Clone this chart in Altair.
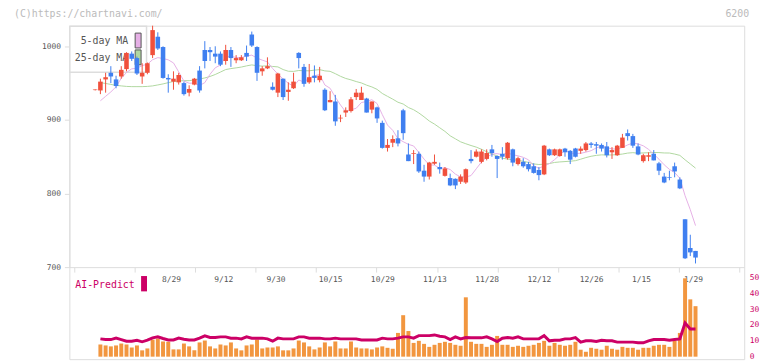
import altair as alt
import pandas as pd

# ---------------- data ----------------
days = list(range(-1, 115))          # trading-day index (-1 = doji before the window)

open_ = [
    940.5,
    940, 955, 964, 955, 959, 969, 990, 984, 959, 964,
    988, 1013, 999, 957, 952, 951, 950, 937, 948, 967,
    995, 995, 990, 990, 980, 995, 981, 981, 991, 1016,
    999, 966, 970, 945, 937, 956, 938, 943, 991, 972,
    951, 960, 954, 941, 924, 925, 902, 910, 912, 931,
    927, 929, 914, 917, 896, 862, 869, 875, 913, 853,
    854, 854, 831, 823, 840.5, 836, 824, 821, 820, 816,
    815, 847, 850, 843, 847, 860, 851, 854, 848, 860,
    840, 843, 840, 837, 832, 826, 860, 852, 851, 861,
    858, 861, 858, 859, 868, 867, 866, 864, 856, 852,
    862, 882, 878, 864, 844, 850, 854, 841, 823, 822.4,
    837, 819, 765, 726, 722]
high = [
    941.5,
    956, 964, 973, 960, 973, 992, 993, 986, 977, 978,
    1028, 1019, 1000, 962, 966, 964, 952, 947, 957, 973,
    1007, 999, 1000, 993, 1002, 999, 988, 988, 1001, 1020,
    1000, 973, 985, 951, 964, 956, 951, 964, 992, 976,
    976, 974, 972, 943, 939, 934, 907, 917, 931, 942,
    945, 930, 925, 918, 899, 874, 879, 886, 915, 868,
    859, 857, 839, 843, 853, 842, 836, 827, 820.5, 826,
    834, 859, 860, 860, 860, 866, 851.5, 863, 870, 861,
    850, 848, 843, 841, 836, 866, 861, 861, 861, 862,
    859, 862, 864, 870, 870, 870, 868, 870, 863, 866,
    881, 887, 881, 868, 854, 856, 859, 843, 828, 831,
    842, 822, 765, 744, 722]
low = [
    940,
    935, 937, 950, 943, 956, 966, 980, 961, 949, 962,
    984, 995, 956, 937, 941, 948, 933, 932, 947, 937,
    970, 980, 977, 973, 975, 972, 977, 980, 980, 999,
    953, 960, 969, 940, 931, 927, 926, 942, 970, 945,
    949, 951, 951, 912, 924, 892, 897, 904, 910, 927,
    927, 910, 909, 896, 861, 857, 863, 864, 873, 844,
    840, 828, 816, 819, 839, 827, 823, 810, 806, 813,
    813, 841, 849, 841, 845, 850, 821, 846, 846, 837,
    838, 835, 830, 827, 818, 825, 851, 851, 850, 850,
    840, 849, 854, 857, 862, 854, 857, 849, 847, 851,
    862, 872, 862, 852, 842, 844, 845, 825, 814, 818,
    822, 806, 711, 715, 705]
close = [
    941.3,
    952, 958, 959, 946, 968, 991, 983, 963, 964, 977,
    1022, 997, 957, 955, 956, 961, 935, 942, 956, 940,
    980, 992, 986, 975, 995, 984, 984, 985, 986, 1001,
    964, 970, 973, 941, 963, 931, 941, 952, 984, 949,
    958, 957, 960, 913, 927, 898, 903, 913, 928, 937,
    937, 910, 925, 902, 862, 866, 874, 868, 882, 844,
    855, 830, 823, 842, 843, 833, 834, 811, 811, 823,
    833, 844, 857, 857, 855, 855, 847, 850, 869, 842,
    848, 837, 833, 828, 825, 865, 852, 860, 860, 856,
    846, 850, 861, 868, 866, 865, 861, 852, 859, 865,
    876, 878, 865, 853, 852, 852, 845, 831, 815, 821.5,
    830, 807, 712, 720, 713]

# days 0..114
ma5 = [
    926, 932, 938, 945, 956.6, 964.4, 969.4, 970.2, 973.8, 975.6,
    981.8, 984.6, 983.4, 981.6, 977.4, 965.2, 952.8, 949.8, 950, 946.8,
    950.6, 962, 970.8, 974.6, 985.6, 986.4, 984.8, 984.6, 986.8, 988,
    984, 981.2, 978.8, 969.8, 962.2, 955.6, 949.8, 945.6, 954.2, 951.4,
    956.8, 960, 961.6, 947.4, 943, 931, 920.2, 910.8, 913.8, 915.8,
    923.6, 925, 927.4, 922.2, 907.2, 893, 885.8, 874.4, 870.4, 866.8,
    864.6, 855.8, 846.8, 838.8, 838.6, 834.2, 835, 832.6, 826.4, 822.4,
    822.4, 824.4, 833.6, 842.8, 849.2, 853.6, 854.2, 852.8, 855.2, 852.6,
    851.2, 849.2, 845.8, 837.6, 834.2, 837.6, 840.6, 846, 852.4, 858.6,
    854.8, 854.4, 854.6, 856.2, 858.2, 862, 864.2, 862.4, 860.6, 860.4,
    862.6, 866, 868.6, 867.4, 864.8, 860, 853.4, 846.6, 839, 832.8,
    828.4, 820.8, 797, 778, 756.4]
ma25 = [
    950.6, 949.5, 948.2, 946.9, 946.2, 945.5, 945.2, 945.2, 945.2, 945.5,
    946.2, 947.5, 948.9, 950.6, 952.2, 952.9, 953.3, 953.3, 954.3, 955.6,
    957, 959, 961.7, 965, 968.4, 969.7, 970.7, 971.8, 973.4, 974.7,
    973.6, 973.1, 973.5, 972.6, 972, 968.4, 966.1, 965.9, 967.1, 966.8,
    966.7, 967.6, 968.3, 966.6, 966, 962.8, 959.2, 956.3, 954.4, 952.1,
    950.2, 947.2, 944.8, 941.5, 935.9, 932, 928.2, 924, 921.6, 916.8,
    913.8, 909.4, 904.2, 898.5, 894.3, 889.3, 884.4, 878.4, 874.3, 870.2,
    867.6, 865.2, 863, 860.1, 856.8, 853.6, 851, 848, 846.7, 845.9,
    845.2, 843.7, 842.3, 840.2, 839.4, 839.8, 840.7, 842.2, 842.9, 843.4,
    843.9, 844.6, 846.6, 848.8, 850.6, 851.8, 852.5, 852.3, 852.4, 852.8,
    853.6, 854.9, 855.5, 854.8, 855.2, 855.4, 855.7, 855.6, 855.1, 855,
    853.6, 851.8, 845.8, 840.2, 834.5]
volume = [
    7.7, 7.1, 6.5, 7.1, 8.3, 7.7, 5.8, 7.1, 4.0, 5.2,
    10.8, 11.5, 9.6, 9.4, 4.6, 4.6, 8.3, 6.5, 4.0, 9.0,
    10.2, 6.5, 5.2, 7.7, 7.1, 9.0, 5.2, 4.0, 7.1, 7.7,
    10.8, 5.2, 5.8, 5.8, 6.5, 4.0, 4.0, 5.2, 10.2, 9.0,
    6.5, 4.6, 5.8, 9.0, 6.5, 9.6, 5.2, 5.2, 9.6, 5.8,
    5.2, 5.2, 4.6, 5.8, 6.5, 5.6, 5.0, 15.0, 26.2, 16.2,
    8.7, 10.0, 8.1, 6.2, 7.5, 8.7, 9.4, 8.7, 7.5, 6.9,
    37.5, 9.4, 8.1, 8.1, 6.2, 7.5, 13.1, 7.5, 7.5, 6.2,
    6.9, 6.2, 6.9, 7.5, 8.7, 10.0, 6.9, 8.7, 7.5, 6.9,
    7.5, 9.4, 4.4, 3.1, 5.6, 5.0, 4.4, 6.9, 5.0, 4.4,
    6.2, 5.6, 5.6, 4.4, 5.6, 5.6, 6.9, 7.5, 7.5, 6.2,
    10.0, 15.0, 49.5, 36.2, 31.9]
ai_predict = [
    11.25, 10.8, 10.8, 11.7, 10.8, 9.8, 9.8, 10.4, 9.4, 10.4,
    11.9, 12.5, 11.5, 10.6, 10.6, 11.7, 11.0, 10.6, 10.6, 11.7,
    13.1, 12.1, 12.1, 12.5, 12.5, 11.7, 11.7, 11.25, 12.5, 11.7,
    11.7, 11.7, 11.25, 9.8, 11.7, 11.25, 11.25, 11.25, 12.5, 12.5,
    11.7, 11.7, 11.7, 11.25, 11.25, 11.7, 11.25, 11.25, 11.25, 11.25,
    10.6, 10.6, 10.6, 10.6, 11.7, 11.25, 11.25, 11.7, 12.5, 12.5,
    11.7, 13.3, 13.3, 13.3, 13.75, 12.9, 12.5, 10.8, 12.5, 11.25,
    12.1, 11.9, 11.9, 11.9, 12.5, 11.25, 9.6, 11.7, 12.1, 11.7,
    12.5, 11.25, 11.25, 11.25, 11.25, 13.3, 10.0, 10.4, 10.4, 11.25,
    11.25, 12.1, 9.2, 10.0, 10.0, 9.6, 10.4, 10.0, 10.0, 9.2,
    9.2, 9.2, 9.2, 8.75, 8.75, 10.0, 10.8, 10.8, 10.8, 10.4,
    10.8, 11.25, 21.25, 17.5, 17.5]

date_labels = ["8/29", "9/12", "9/30", "10/15", "10/29", "11/13",
               "11/28", "12/12", "12/26", "1/15", "1/29"]
date_days = [12, 22, 32, 42, 52, 62, 72, 82, 92, 102, 112]
price_ticks = [700, 800, 900, 1000]
volume_ticks = [0, 10, 20, 30, 40, 50]
x_grid_ticks = [-5, 6.58, 18.16, 29.74, 41.32, 52.9, 64.48, 76.06, 87.64,
                99.22, 110.8, 122.38]
legend_names = ["5-day MA", "25-day MA"]
ai_name = "AI-Predict"
header_left = "(C)https://chartnavi.com/"
header_right = "6200"

# ---------------- tables ----------------
cdf = pd.DataFrame({"day": days, "o": open_, "h": high, "l": low, "c": close})
cdf["dir"] = ["up" if c >= o else "down" for o, c in zip(open_, close)]
vdf = pd.DataFrame({"day": days[1:], "v": volume, "a": ai_predict,
                    "m5": ma5, "m25": ma25})
ldf = pd.DataFrame({"day": date_days, "lab": date_labels})
one = pd.DataFrame({"z": [0]})

# ---------------- styles ----------------
RED, BLUE = "#f0503c", "#3f7ff0"
PINK, GREEN = "#e6b0e6", "#b0d8a0"
ORANGE, MAG = "#f2963f", "#cc0066"
FONT = "DejaVu Sans Mono"
W, H = 682, 337

XS = alt.Scale(domain=[-5, 122.38], nice=False, zero=False)
XAX = alt.Axis(values=x_grid_ticks, labels=False, title=None, grid=False,
               domainColor="#dddddd", tickColor="#dddddd", tickSize=5,
               offset=-(H - 244))
PY = alt.Scale(domain=[700, 1028], range=[244, 0], nice=False, zero=False)
PAX = alt.Axis(values=price_ticks, format="d", title=None, grid=False,
               domainColor="#dddddd", tickColor="#dddddd", tickSize=5,
               labelPadding=4, labelFont=FONT, labelFontSize=8,
               labelColor="#555555")
VY = alt.Scale(domain=[0, 50], range=[334.5, 254.5], nice=False, zero=True)
VAX = alt.Axis(values=volume_ticks, format="d", title=None, grid=False,
               domain=False, ticks=False, labelPadding=5, labelFont=FONT,
               labelFontSize=8, labelColor=MAG)


def X(f):
    return alt.X(f, type="quantitative", scale=XS, axis=XAX)


def PYe(f):
    return alt.Y(f, type="quantitative", scale=PY, axis=PAX)


# ---------------- top panel ----------------
box = alt.Chart(one).mark_rect(fill="white", stroke="#dddddd", strokeWidth=1.5).encode(
    x=alt.value(0.5), x2=alt.value(78), y=alt.value(0.5), y2=alt.value(47))
lt1 = alt.Chart(one).mark_text(font=FONT, fontSize=10, color="#555555",
                               align="right", baseline="middle").encode(
    x=alt.value(59.5), y=alt.value(15.5), text=alt.value(legend_names[0]))
lt2 = alt.Chart(one).mark_text(font=FONT, fontSize=10, color="#555555",
                               align="right", baseline="middle").encode(
    x=alt.value(59.5), y=alt.value(32.5), text=alt.value(legend_names[1]))
sw1 = alt.Chart(one).mark_rect(fill=PINK, stroke="#555555", strokeWidth=1).encode(
    x=alt.value(66.5), x2=alt.value(72.5), y=alt.value(7.5), y2=alt.value(22.5))
sw2 = alt.Chart(one).mark_rect(fill=GREEN, stroke="#555555", strokeWidth=1).encode(
    x=alt.value(66.5), x2=alt.value(72.5), y=alt.value(24.5), y2=alt.value(39.5))

m25 = alt.Chart(vdf).mark_line(color=GREEN, strokeWidth=1).encode(x=X("day"), y=PYe("m25"))
m5 = alt.Chart(vdf).mark_line(color=PINK, strokeWidth=1).encode(x=X("day"), y=PYe("m5"))

col = alt.Color("dir:N", scale=alt.Scale(domain=["up", "down"], range=[RED, BLUE]), legend=None)
wick = alt.Chart(cdf).mark_rule(strokeWidth=1).encode(
    x=X("day"), y=PYe("l"), y2="h", color=col)
body = alt.Chart(cdf).mark_bar(size=4.6).encode(
    x=X("day"), y=PYe("o"), y2="c", color=col)

dates = alt.Chart(ldf).mark_text(font=FONT, fontSize=8, color="#555555",
                                 align="left", baseline="middle", dx=-1).encode(
    x=X("day"), y=alt.value(257.5), text="lab:N")
hl = alt.Chart(one).mark_text(font=FONT, fontSize=10, color="#bbbbbb",
                              align="left", baseline="middle").encode(
    x=alt.value(-56), y=alt.value(-11.5), text=alt.value(header_left))
hr = alt.Chart(one).mark_text(font=FONT, fontSize=10, color="#bbbbbb",
                              align="right", baseline="middle").encode(
    x=alt.value(687), y=alt.value(-11.5), text=alt.value(header_right))

top = alt.layer(box, lt1, lt2, sw1, sw2, m25, m5, wick, body, dates, hl, hr)

# ---------------- bottom panel ----------------
vbar = alt.Chart(vdf).mark_bar(size=4, color=ORANGE).encode(
    x=X("day"), y=alt.Y("v:Q", scale=VY, axis=VAX))
aline = alt.Chart(vdf).mark_line(color=MAG, strokeWidth=3).encode(
    x=X("day"), y=alt.Y("a:Q", scale=VY, axis=VAX))
atext = alt.Chart(one).mark_text(font=FONT, fontSize=10, color=MAG,
                                 align="left", baseline="middle").encode(
    x=alt.value(6), y=alt.value(262), text=alt.value(ai_name))
aswatch = alt.Chart(one).mark_rect(fill=MAG).encode(
    x=alt.value(72.5), x2=alt.value(78.5), y=alt.value(253), y2=alt.value(268.5))

bottom = alt.layer(vbar, aline, atext, aswatch)

chart = alt.layer(top, bottom).resolve_scale(y="independent").properties(
    width=W, height=H,
    padding={"left": 62, "top": 16, "right": 20, "bottom": 0},
    autosize=alt.AutoSizeParams(type="none"),
).configure_view(strokeWidth=0).configure(background="white")

chart.save("out.html", embed_options={"renderer": "svg", "actions": False})
